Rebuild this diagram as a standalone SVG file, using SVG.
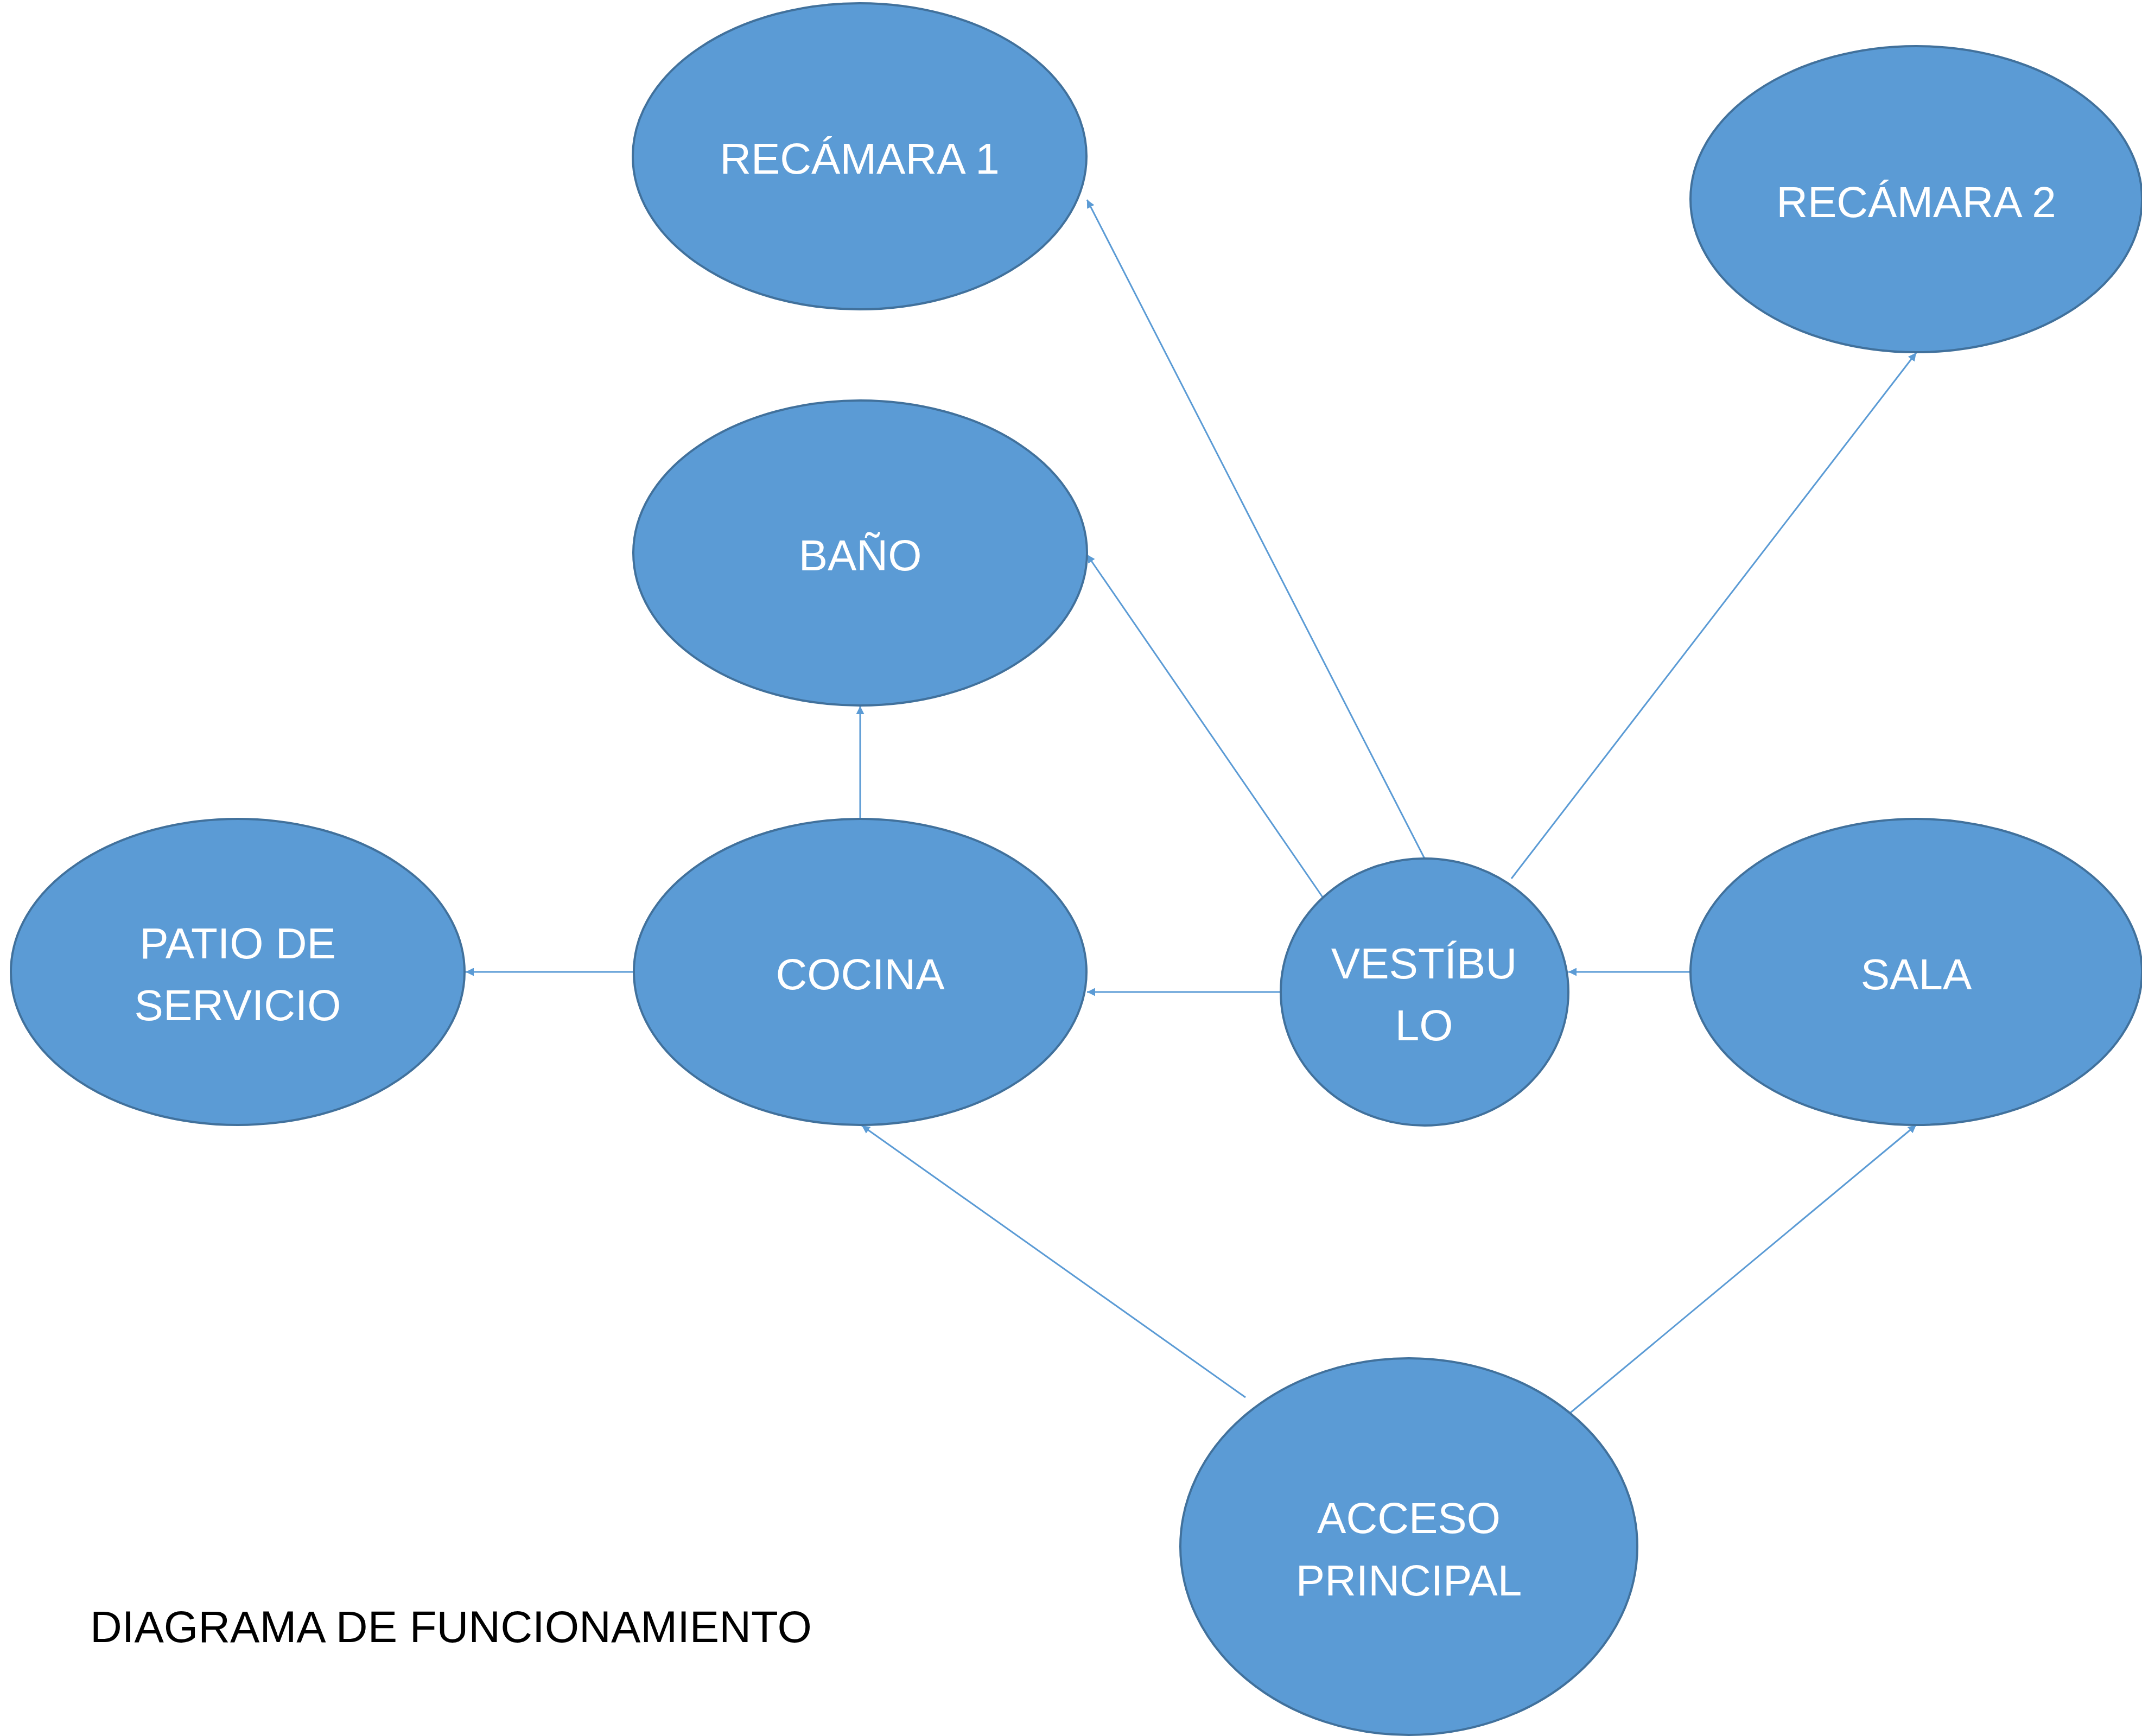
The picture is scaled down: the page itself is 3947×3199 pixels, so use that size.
<svg xmlns="http://www.w3.org/2000/svg" width="3947" height="3199" viewBox="0 0 3947 3199">
<style>
.node ellipse { fill: #5B9BD5; stroke: #41719C; stroke-width: 4; }
.node text { fill: #FFFFFF; font-family: "Liberation Sans", Arial, sans-serif; font-size: 80px; text-anchor: middle; }
.conn line { stroke: #5B9BD5; stroke-width: 3; fill: none; marker-end: url(#arrow); }
.title { fill: #000000; font-family: "Liberation Sans", Arial, sans-serif; font-size: 81.5px; }
</style>
<defs>
<marker id="arrow" viewBox="0 0 10 10" refX="10" refY="5" markerWidth="5" markerHeight="5" orient="auto" markerUnits="strokeWidth">
<path d="M0,0 L10,5 L0,10 z" fill="#5B9BD5"/>
</marker>
</defs>
<rect x="0" y="0" width="3947" height="3199" fill="#FFFFFF"/>
<g id="connectors" class="conn">
<line x1="3115" y1="1791" x2="2890" y2="1791"/>
<line x1="2361" y1="1828" x2="2003" y2="1828"/>
<line x1="1168" y1="1791" x2="858" y2="1791"/>
<line x1="1585" y1="1510" x2="1585" y2="1301"/>
<line x1="2437" y1="1653" x2="2003" y2="1022"/>
<line x1="2625" y1="1582" x2="2003" y2="368"/>
<line x1="2785" y1="1619" x2="3531" y2="650"/>
<line x1="2295" y1="2575" x2="1588" y2="2074"/>
<line x1="2894" y1="2603" x2="3531" y2="2073"/>
</g>
<g id="recamara1" class="node">
<ellipse cx="1584" cy="288" rx="418" ry="282"/>
<text x="1584" y="320">RECÁMARA 1</text>
</g>
<g id="recamara2" class="node">
<ellipse cx="3531" cy="367" rx="416" ry="282"/>
<text x="3531" y="400">RECÁMARA 2</text>
</g>
<g id="bano" class="node">
<ellipse cx="1585" cy="1019" rx="418" ry="281"/>
<text x="1585" y="1051">BAÑO</text>
</g>
<g id="patio" class="node">
<ellipse cx="438" cy="1791" rx="418" ry="282"/>
<text x="438" y="1766">PATIO DE</text>
<text x="438" y="1880">SERVICIO</text>
</g>
<g id="cocina" class="node">
<ellipse cx="1585" cy="1791" rx="417" ry="282"/>
<text x="1585" y="1823">COCINA</text>
</g>
<g id="vestibulo" class="node">
<ellipse cx="2625" cy="1828" rx="265" ry="246"/>
<text x="2624" y="1803">VESTÍBU</text>
<text x="2624" y="1917">LO</text>
</g>
<g id="sala" class="node">
<ellipse cx="3531" cy="1791" rx="416" ry="282"/>
<text x="3531" y="1823">SALA</text>
</g>
<g id="acceso" class="node">
<ellipse cx="2596" cy="2850" rx="421" ry="347"/>
<text x="2596" y="2825">ACCESO</text>
<text x="2596" y="2940">PRINCIPAL</text>
</g>
<text class="title" x="166" y="3026">DIAGRAMA DE FUNCIONAMIENTO</text>
</svg>
